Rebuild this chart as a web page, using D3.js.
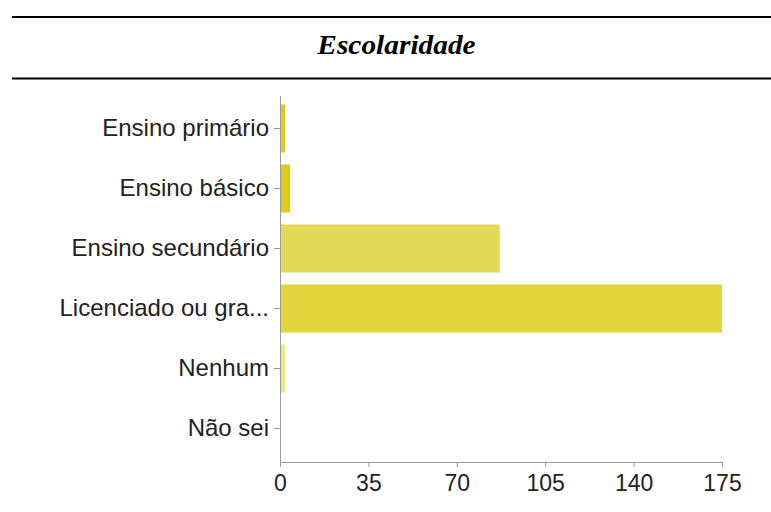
<!DOCTYPE html>
<html>
<head>
<meta charset="utf-8">
<script src="https://cdn.jsdelivr.net/npm/d3@7"></script>
<style>
  body { margin: 0; background: #fff; }
  .tick text { font-family: "Liberation Sans", Arial, sans-serif; fill: #222; }
  .yaxis .tick text { font-size: 24px; }
  .xaxis .tick text { font-size: 23px; }
  .axis path, .axis line { stroke: #9a9a9a; }
</style>
</head>
<body>
<div id="chart"></div>
<script>
////////////////////
// DATA
var categories = ["Ensino primário", "Ensino básico", "Ensino secundário", "Licenciado ou gra...", "Nenhum", "Não sei"];
var counts = [2, 4, 87, 175, 2, 0];
var barColors = ["#dfcb17", "#dfcb17", "#e4d955", "#e2d43a", "#efe782", "#efe782"];
var xTicks = [0, 35, 70, 105, 140, 175];
var title = "Escolaridade";

////////////////////
// SETUP
var w = 771;
var h = 512;

var svg = d3.select("#chart")
  .append("svg")
  .attr("width", w)
  .attr("height", h);

// title band with rules above and below
svg.append("line")
  .attr("x1", 12).attr("x2", w)
  .attr("y1", 17).attr("y2", 17)
  .attr("stroke", "#000").attr("stroke-width", 2);
svg.append("line")
  .attr("x1", 12).attr("x2", w)
  .attr("y1", 78.5).attr("y2", 78.5)
  .attr("stroke", "#000").attr("stroke-width", 2);
svg.append("text")
  .attr("transform", "translate(396.5,54) scale(1.05,1)")
  .attr("text-anchor", "middle")
  .style("font-family", "'Liberation Serif', 'Times New Roman', serif")
  .style("font-weight", "bold")
  .style("font-style", "italic")
  .style("font-size", "28px")
  .text(title);

////////////////////
// SCALES
var x = d3.scaleLinear()
  .domain([0, 175])
  .range([280, 722]);
var y = d3.scaleBand()
  .domain(categories)
  .range([98.5, 458.5])
  .paddingInner(0.2)
  .paddingOuter(0.1);

var rows = categories.map(function(c, i) {
  return { name: c, value: counts[i], color: barColors[i] };
});

////////////////////
// BARS
svg.append("g")
  .selectAll("rect")
  .data(rows)
  .enter()
  .append("rect")
  .attr("x", x(0))
  .attr("y", function(d) { return y(d.name); })
  .attr("width", function(d) { return x(d.value) - x(0); })
  .attr("height", y.bandwidth())
  .attr("fill", function(d) { return d.color; });

////////////////////
// AXES
var yAxis = svg.append("g")
  .attr("class", "axis yaxis")
  .attr("transform", "translate(" + x(0) + ",0)")
  .call(d3.axisLeft(y).tickSize(6).tickSizeOuter(0).tickPadding(5));
yAxis.select(".domain").remove();
svg.append("line")
  .attr("class", "axis")
  .attr("x1", x(0) + 0.5).attr("x2", x(0) + 0.5)
  .attr("y1", 96).attr("y2", 462)
  .attr("stroke", "#9a9a9a");

var xAxis = svg.append("g")
  .attr("class", "axis xaxis")
  .attr("transform", "translate(0,462)")
  .call(d3.axisBottom(x).tickValues(xTicks).tickSize(5).tickSizeOuter(0).tickPadding(8));
</script>
</body>
</html>
